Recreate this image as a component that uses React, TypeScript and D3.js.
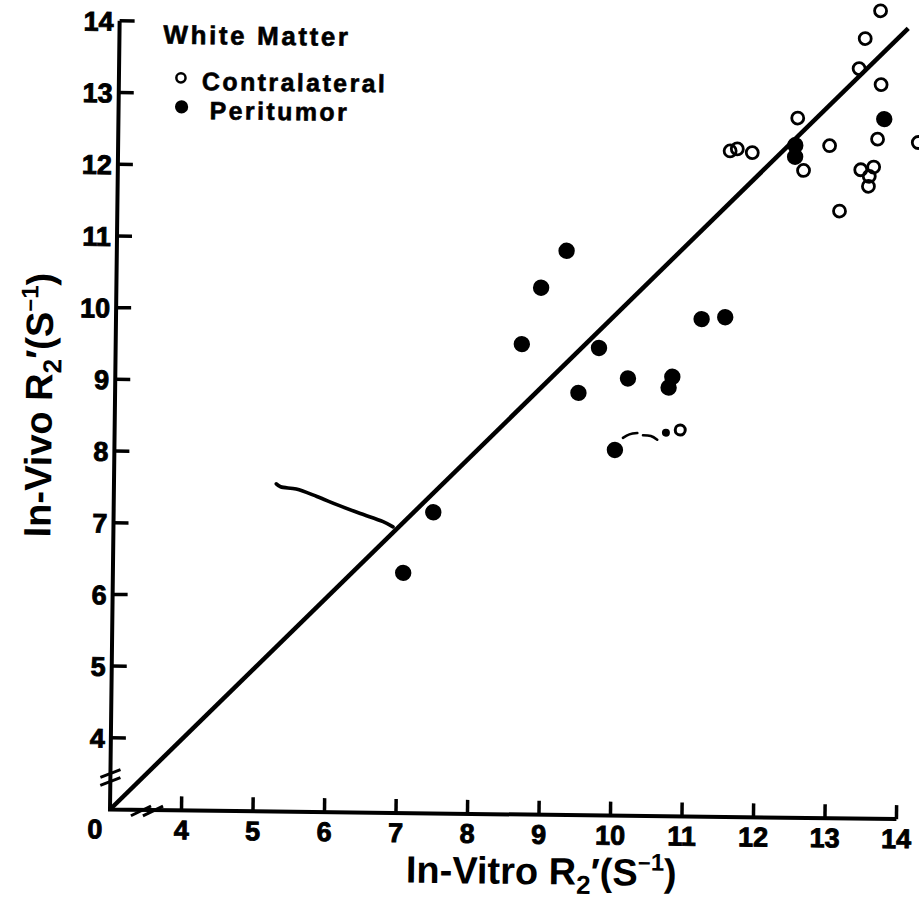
import React from 'react';
import * as d3 from 'd3';

const W = 919;
const H = 909;

// axis ticks (the axes are broken: the origin stands for 0, ticks start at 4)
const xTicks = [4, 5, 6, 7, 8, 9, 10, 11, 12, 13, 14];
const yTicks = [4, 5, 6, 7, 8, 9, 10, 11, 12, 13, 14];

// white matter, contralateral hemisphere: [in-vitro, in-vivo] R2' (1/s)
const contralateral: [number, number][] = [
  [13.64, 14.27], [13.43, 13.88], [13.35, 13.46], [13.66, 13.24],
  [12.5, 12.76], [13.62, 12.48], [14.19, 12.44], [12.95, 12.38],
  [11.87, 12.27], [11.56, 12.29], [11.66, 12.32], [12.59, 12.03],
  [13.39, 12.05], [13.57, 12.09], [13.51, 11.96], [13.5, 11.82],
  [13.1, 11.47],
];

// white matter, peritumoral region
const peritumor: [number, number][] = [
  [7.06, 6.35], [7.47, 7.2], [8.68, 9.56], [8.94, 10.35], [9.29, 10.87],
  [9.76, 9.52], [10.17, 9.1], [9.48, 8.89], [10.79, 9.13], [10.74, 8.98],
  [11.19, 9.94], [11.52, 9.97], [10.0, 8.1], [12.47, 12.38], [12.47, 12.22],
  [13.71, 12.76],
];

// line of identity, in-vivo = in-vitro
const identityLine: [number, number][] = [[3, 3], [14.03, 14.03]];

// hand-drawn pointer onto the identity line
const pointerStroke: [number, number][] = [
  [5.27, 7.57], [5.33, 7.53], [5.55, 7.5], [5.84, 7.4], [6.12, 7.29], [6.45, 7.17], [6.77, 7.06], [6.91, 6.99],
];

// small pen marks below the peritumor cloud
const penMarks: [number, number][][] = [
  [[10.11, 8.27], [10.2, 8.32], [10.31, 8.34]],
  [[10.39, 8.31], [10.5, 8.3], [10.59, 8.25]],
];
const penDots: [number, number][] = [[10.71, 8.35], [10.91, 8.39]];

const legendItems = ['Contralateral', 'Peritumor'];

const ORIGIN_X = 110;
const ORIGIN_Y = 809.5;
const font = '"Liberation Sans", Arial, Helvetica, sans-serif';

function RTitle({ head }: { head: string }) {
  return (
    <>
      {head}
      <tspan fontSize={26} dy={9}>2</tspan>
      <tspan dy={-9}>{'\u2032(S'}</tspan>
      <tspan fontSize={22} dy={-15}>{'\u2212'}</tspan>
      <tspan fontSize={24}>1</tspan>
      <tspan dy={15}>)</tspan>
    </>
  );
}

export default function App() {
  const x = d3.scaleLinear().domain([3, 14]).range([ORIGIN_X, ORIGIN_X + 11 * 71.5]);
  const y = d3.scaleLinear().domain([3, 14]).range([ORIGIN_Y, ORIGIN_Y - 11 * 71.7]);
  const line = d3.line<[number, number]>().x((d) => x(d[0])).y((d) => y(d[1]));
  const smooth = d3
    .line<[number, number]>()
    .x((d) => x(d[0]))
    .y((d) => y(d[1]))
    .curve(d3.curveCatmullRom);

  const x0 = x(3);
  const y0 = y(3);
  const xEnd = x(14);
  const yEnd = y(14);

  const tickText = { fontSize: 27, fontWeight: 'bold' as const, stroke: '#000', strokeWidth: 0.9 };

  return (
    <svg
      width={W}
      height={H}
      viewBox={`0 0 ${W} ${H}`}
      style={{ position: 'absolute', left: 0, top: 0, background: '#fff' }}
    >
      <rect width={W} height={H} fill="#fff" />
      <g transform={`rotate(0.7 ${ORIGIN_X} ${ORIGIN_Y})`} fill="#000" fontFamily={font}>
        {/* axes */}
        <path
          d={`M${x0},${yEnd} V${y0} H${xEnd}`}
          fill="none"
          stroke="#000"
          strokeWidth={4}
          strokeLinejoin="miter"
        />
        {yTicks.map((t) => (
          <line key={`yt${t}`} x1={x0} x2={x0 + 15} y1={y(t)} y2={y(t)} stroke="#000" strokeWidth={3.5} />
        ))}
        {xTicks.map((t) => (
          <line key={`xt${t}`} x1={x(t)} x2={x(t)} y1={y0} y2={y0 - 14} stroke="#000" strokeWidth={3.5} />
        ))}
        {/* axis breaks */}
        {[-4, 4].map((o) => (
          <line key={`yb${o}`} x1={x0 - 10} y1={y0 - 32 + o + 4} x2={x0 + 10} y2={y0 - 32 + o - 4} stroke="#000" strokeWidth={3} />
        ))}
        {[-6, 6].map((o) => (
          <line key={`xb${o}`} x1={x0 + 37 + o - 10} y1={y0 + 6} x2={x0 + 37 + o + 10} y2={y0 - 4} stroke="#000" strokeWidth={3} />
        ))}

        {/* tick labels */}
        {yTicks.map((t) => (
          <text key={`yl${t}`} x={x0 - 6} y={y(t) + 10} textAnchor="end" {...tickText}>
            {t}
          </text>
        ))}
        {xTicks.map((t) => (
          <text key={`xl${t}`} x={x(t)} y={y0 + 29} textAnchor="middle" {...tickText}>
            {t}
          </text>
        ))}
        <text x={x0 - 15} y={y0 + 29} textAnchor="middle" {...tickText}>
          0
        </text>

        {/* axis titles */}
        <text x={542} y={879} textAnchor="middle" fontSize={38} fontWeight="bold">
          <RTitle head="In-Vitro R" />
        </text>
        <text transform="translate(47 406) rotate(-90)" textAnchor="middle" fontSize={38} fontWeight="bold">
          <RTitle head="In-Vivo R" />
        </text>

        {/* identity line */}
        <path d={line(identityLine) ?? ''} fill="none" stroke="#000" strokeWidth={4.5} />
        <path d={smooth(pointerStroke) ?? ''} fill="none" stroke="#000" strokeWidth={3.6} strokeLinecap="round" />
        {penMarks.map((m, i) => (
          <path key={`pm${i}`} d={smooth(m) ?? ''} fill="none" stroke="#000" strokeWidth={2.6} strokeLinecap="round" />
        ))}
        {penDots.map((d, i) => (
          <circle key={`pd${i}`} cx={x(d[0])} cy={y(d[1])} r={i === 0 ? 2.5 : 5} fill={i === 0 ? '#000' : 'none'} stroke="#000" strokeWidth={3} />
        ))}

        {/* data */}
        {contralateral.map((d, i) => (
          <circle key={`c${i}`} cx={x(d[0])} cy={y(d[1])} r={6} fill="none" stroke="#000" strokeWidth={2.8} />
        ))}
        {peritumor.map((d, i) => (
          <circle key={`p${i}`} cx={x(d[0])} cy={y(d[1])} r={8.2} fill="#000" />
        ))}

        {/* legend */}
        <text x={154} y={43} fontSize={26} fontWeight="bold" letterSpacing={2.6} stroke="#000" strokeWidth={0.6}>
          White Matter
        </text>
        {legendItems.map((label, i) => (
          <g key={label}>
            {i === 0 ? (
              <circle cx={172} cy={77} r={4.6} fill="none" stroke="#000" strokeWidth={2.5} />
            ) : (
              <circle cx={173} cy={106} r={6.6} fill="#000" />
            )}
            <text
              x={i === 0 ? 193 : 201}
              y={i === 0 ? 89 : 118}
              fontSize={25}
              fontWeight="bold"
              letterSpacing={2.4}
              stroke="#000"
              strokeWidth={0.6}
            >
              {label}
            </text>
          </g>
        ))}
      </g>
    </svg>
  );
}
